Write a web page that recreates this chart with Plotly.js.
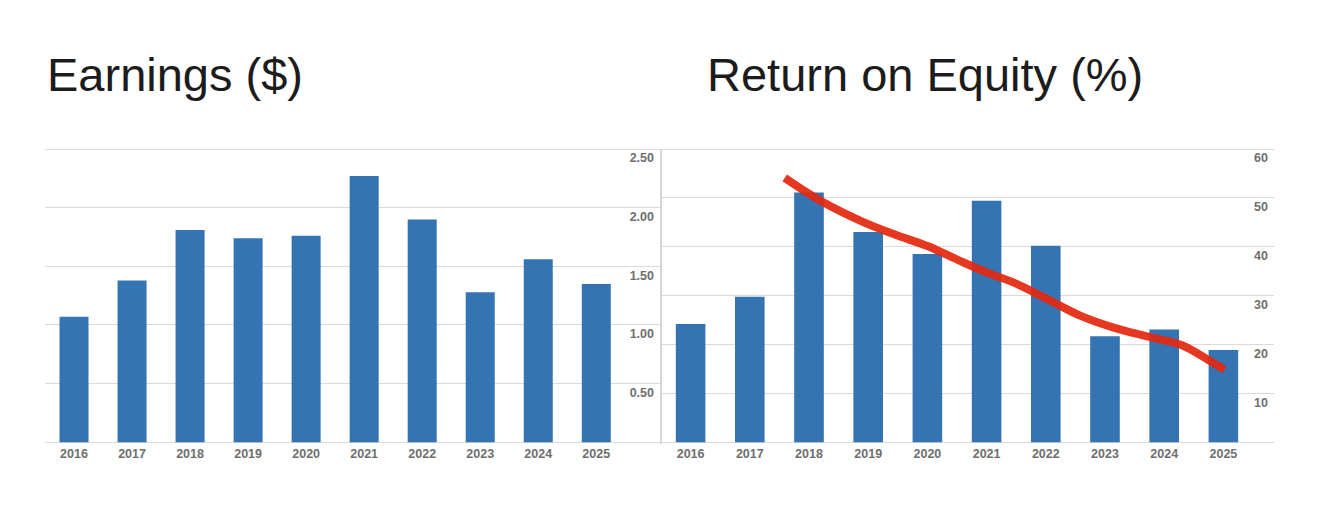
<!DOCTYPE html>
<html>
<head>
<meta charset="utf-8">
<script src="https://cdn.plot.ly/plotly-3.0.1.min.js"></script>
<style>html,body{margin:0;padding:0;background:#fff;}#chart{width:1320px;height:511px;}</style>
</head>
<body>
<div id="chart"></div>
<script>
// ---- data ----
const years = [2016, 2017, 2018, 2019, 2020, 2021, 2022, 2023, 2024, 2025];
const earnings = [1.07, 1.38, 1.81, 1.74, 1.76, 2.27, 1.90, 1.28, 1.56, 1.35];
const roe = [24.2, 29.8, 51.1, 43.0, 38.5, 49.4, 40.2, 21.7, 23.1, 18.9];
// hand-drawn trend stroke over the ROE chart
const trendX = [2017.59, 2018.21, 2018.89, 2019.45, 2020.01, 2020.57, 2021.03, 2021.47, 2022.04, 2022.60, 2023.16, 2023.73, 2024.29, 2024.74, 2025.02];
const trendY = [54.1, 49.3, 45.2, 42.5, 40.1, 37.0, 34.6, 32.6, 29.2, 25.8, 23.4, 21.6, 19.9, 16.9, 14.8];
const earnTicks = [0, 0.5, 1.0, 1.5, 2.0, 2.5];
const earnTickText = ['', '0.50', '1.00', '1.50', '2.00', '2.50'];
const roeTicks = [0, 10, 20, 30, 40, 50, 60];
const roeTickText = ['', '10', '20', '30', '40', '50', '60'];
const titles = ['Earnings ($)', 'Return on Equity (%)'];

// ---- layout helpers ----
const W = 1320, H = 511;
const px = v => v / W;
const py = v => 1 - v / H;
const barColor = '#3474b2';
const gridColor = '#dadada';
const tickFont = {family: 'Liberation Sans, Arial, sans-serif', size: 12.5, color: '#6e6e6e', weight: 'bold'};

// plot area: top value line at 149px, zero at 442.3px; domain padded so edge lines are interior
const topPx = 149, zeroPx = 442.3, domTop = 140, domBot = 444;
function paddedRange(maxVal) {
  const per = (zeroPx - topPx) / maxVal;
  return [-(domBot - zeroPx) / per, maxVal + (topPx - domTop) / per];
}

const traces = [
  {type: 'bar', x: years, y: earnings, xaxis: 'x', yaxis: 'y', marker: {color: barColor}, hoverinfo: 'x+y'},
  {type: 'bar', x: years, y: roe, xaxis: 'x2', yaxis: 'y2', marker: {color: barColor}, hoverinfo: 'x+y'},
  {type: 'scatter', mode: 'lines', x: trendX, y: trendY, xaxis: 'x2', yaxis: 'y2',
   line: {color: 'rgba(228,40,16,0.93)', width: 8, shape: 'spline', smoothing: 1}, hoverinfo: 'skip'}
];

const yDom = [py(domBot), py(domTop)];
const xBase = {
  tickvals: years, ticktext: years.map(String), tickfont: tickFont,
  showgrid: false, zeroline: false, showline: false, ticks: '', fixedrange: true
};
const yBase = {
  side: 'right', ticklabelposition: 'inside', ticks: '', showline: false,
  zeroline: false, showgrid: true, gridcolor: gridColor, gridwidth: 1,
  tickfont: tickFont, ticklabelshift: 9, ticklabelstandoff: 3, fixedrange: true, domain: yDom
};

const layout = {
  width: W, height: H,
  margin: {l: 0, r: 0, t: 0, b: 0},
  paper_bgcolor: '#ffffff', plot_bgcolor: 'rgba(0,0,0,0)',
  showlegend: false, bargap: 0.5,
  xaxis: Object.assign({}, xBase, {domain: [px(45), px(660)], range: [2015.5, 2026.098], anchor: 'y'}),
  yaxis: Object.assign({}, yBase, {range: paddedRange(2.5), tickvals: earnTicks, ticktext: earnTickText, anchor: 'x'}),
  xaxis2: Object.assign({}, xBase, {domain: [px(661), px(1274)], range: [2015.5, 2025.855], anchor: 'y2'}),
  yaxis2: Object.assign({}, yBase, {range: paddedRange(60), tickvals: roeTicks, ticktext: roeTickText, anchor: 'x2'}),
  shapes: [
    {type: 'line', xref: 'paper', yref: 'paper', x0: px(661), x1: px(661), y0: py(444), y1: py(149),
     line: {color: '#d6d6d6', width: 2}, layer: 'below'}
  ],
  annotations: [
    {text: titles[0], xref: 'paper', yref: 'paper', x: px(45), y: py(74), xanchor: 'left', yanchor: 'middle',
     showarrow: false, font: {family: 'Liberation Sans, Arial, sans-serif', size: 47, color: '#1c1c1c'}},
    {text: titles[1], xref: 'paper', yref: 'paper', x: px(705), y: py(74), xanchor: 'left', yanchor: 'middle',
     showarrow: false, font: {family: 'Liberation Sans, Arial, sans-serif', size: 47, color: '#1c1c1c'}}
  ]
};

Plotly.newPlot('chart', traces, layout, {displayModeBar: false, staticPlot: true});
</script>
</body>
</html>
